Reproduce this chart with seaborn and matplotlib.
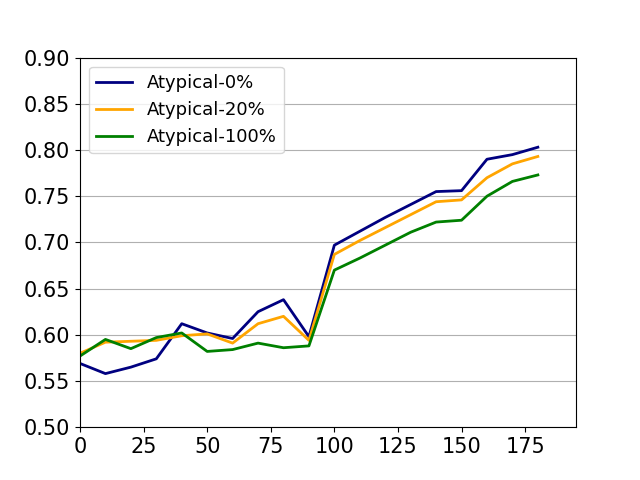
import matplotlib
matplotlib.use('Agg')
import matplotlib.pyplot as plt
import seaborn as sns
import pandas as pd

# Data
steps = [0, 10, 20, 30, 40, 50, 60, 70, 80, 90, 100, 110, 120, 130, 140, 150, 160, 170, 180]
atypical_0 = [0.569, 0.558, 0.565, 0.574, 0.612, 0.602, 0.596, 0.625, 0.638, 0.598,
              0.697, 0.712, 0.727, 0.741, 0.755, 0.756, 0.790, 0.795, 0.803]
atypical_20 = [0.580, 0.592, 0.593, 0.594, 0.599, 0.601, 0.591, 0.612, 0.620, 0.594,
               0.687, 0.702, 0.716, 0.730, 0.744, 0.746, 0.770, 0.785, 0.793]
atypical_100 = [0.577, 0.595, 0.585, 0.597, 0.602, 0.582, 0.584, 0.591, 0.586, 0.588,
                0.670, 0.683, 0.697, 0.711, 0.722, 0.724, 0.750, 0.766, 0.773]

labels = ['Atypical-0%', 'Atypical-20%', 'Atypical-100%']
colors = ['navy', 'orange', 'green']
x_ticks = [0, 25, 50, 75, 100, 125, 150, 175]

df = pd.DataFrame({'step': steps * 3,
                   'acc': atypical_0 + atypical_20 + atypical_100,
                   'series': [l for l in labels for _ in steps]})

fig, ax = plt.subplots(figsize=(6.4, 4.8), dpi=100)
sns.lineplot(data=df, x='step', y='acc', hue='series', hue_order=labels,
             palette=colors, linewidth=2, ax=ax)

ax.set_xticks(x_ticks)
ax.set_xlim(0, 195)
ax.set_ylim(0.5, 0.9)
ax.set_yticks([0.5 + 0.05 * i for i in range(9)])
ax.yaxis.set_major_formatter(matplotlib.ticker.FormatStrFormatter('%.2f'))
ax.grid(axis='y', color='#b0b0b0', linewidth=0.8)
ax.set_axisbelow(True)
ax.tick_params(labelsize=15)
ax.set_xlabel('')
ax.set_ylabel('')
ax.legend(loc='upper left', fontsize=13, title=None)

plt.savefig('out.png')
